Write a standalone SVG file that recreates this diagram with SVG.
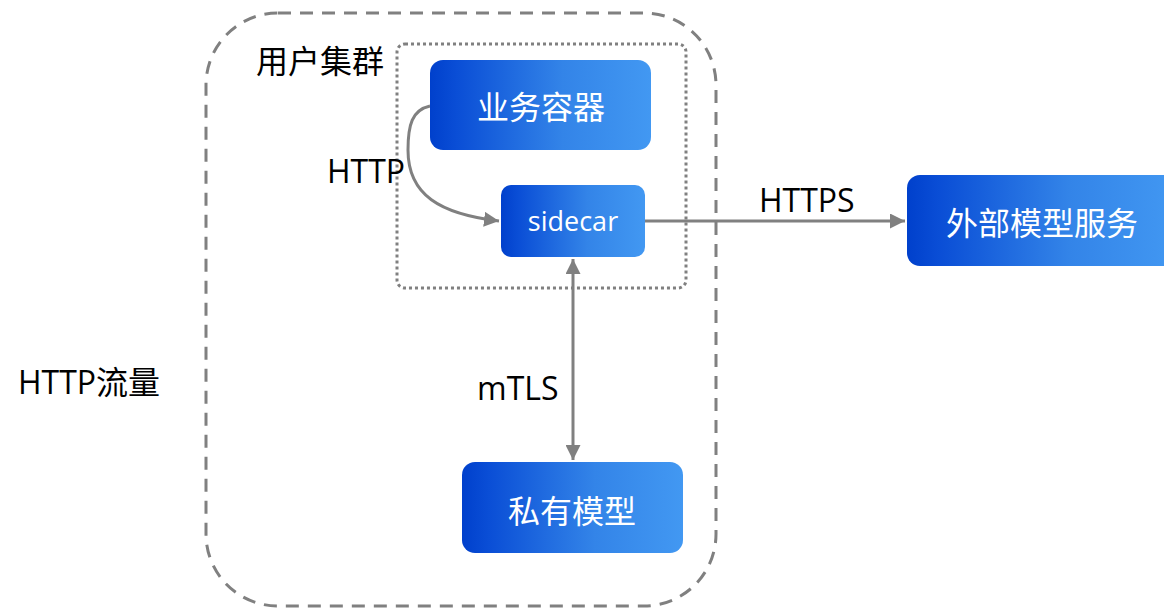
<svg xmlns="http://www.w3.org/2000/svg" width="1164" height="611" viewBox="0 0 1164 611">
  <defs>
    <linearGradient id="blueFill" x1="0" y1="0" x2="1" y2="0">
      <stop offset="0" stop-color="#0040cc"/>
      <stop offset="0.12" stop-color="#0a4ed6"/>
      <stop offset="0.6" stop-color="#3384e8"/>
      <stop offset="1" stop-color="#4298f2"/>
    </linearGradient>
    <marker id="arrow" viewBox="0 0 10 10" refX="10" refY="5" markerWidth="5" markerHeight="5" orient="auto-start-reverse" markerUnits="strokeWidth">
      <path d="M0,0 L10,5 L0,10 z" fill="#808080"/>
    </marker>
    <style>
      .box { fill: url(#blueFill); }
      .boxText { fill: #ffffff; font-family: "Open Sans", "Noto Sans CJK SC", sans-serif; text-anchor: middle; dominant-baseline: central; }
      .label { fill: #000000; font-family: "Open Sans", "Noto Sans CJK SC", sans-serif; font-size: 32px; }
      .conn { fill: none; stroke: #808080; stroke-width: 3; }
    </style>
  </defs>

  <rect width="1164" height="611" fill="#ffffff"/>

  <!-- outer traffic boundary -->
  <g id="http-traffic">
    <rect x="206" y="13" width="510" height="593" rx="72" ry="72" fill="none" stroke="#808080" stroke-width="3" stroke-dasharray="13 9"/>
    <text class="label" x="18" y="394">HTTP流量</text>
  </g>

  <!-- user cluster boundary -->
  <g id="user-cluster">
    <rect x="397" y="44" width="289" height="244" rx="8" ry="8" fill="none" stroke="#808080" stroke-width="3" stroke-dasharray="3 3"/>
    <text class="label" x="256" y="73">用户集群</text>
  </g>

  <!-- connectors -->
  <g id="connectors">
    <path class="conn" d="M430,106 C412,110 408,125 408,150 C408,195 440,214 499,221" marker-end="url(#arrow)"/>
    <path class="conn" d="M645,221 L905,221" marker-end="url(#arrow)"/>
    <path class="conn" d="M573,259 L573,460" marker-start="url(#arrow)" marker-end="url(#arrow)"/>
    <text class="label" x="327" y="183">HTTP</text>
    <text class="label" x="759" y="212">HTTPS</text>
    <text class="label" x="477" y="400">mTLS</text>
  </g>

  <g id="business-container">
    <rect class="box" x="430" y="60" width="221" height="90" rx="13" ry="13"/>
    <text class="boxText" x="541" y="106" font-size="32">业务容器</text>
  </g>

  <g id="sidecar">
    <rect class="box" x="501" y="185" width="144" height="72" rx="10" ry="10"/>
    <text class="boxText" x="573" y="220" font-size="27">sidecar</text>
  </g>

  <g id="external-model-service">
    <rect class="box" x="907" y="175" width="270" height="91" rx="13" ry="13"/>
    <text class="boxText" x="1042" y="222" font-size="32">外部模型服务</text>
  </g>

  <g id="private-model">
    <rect class="box" x="462" y="462" width="221" height="91" rx="13" ry="13"/>
    <text class="boxText" x="572" y="510" font-size="32">私有模型</text>
  </g>
</svg>
